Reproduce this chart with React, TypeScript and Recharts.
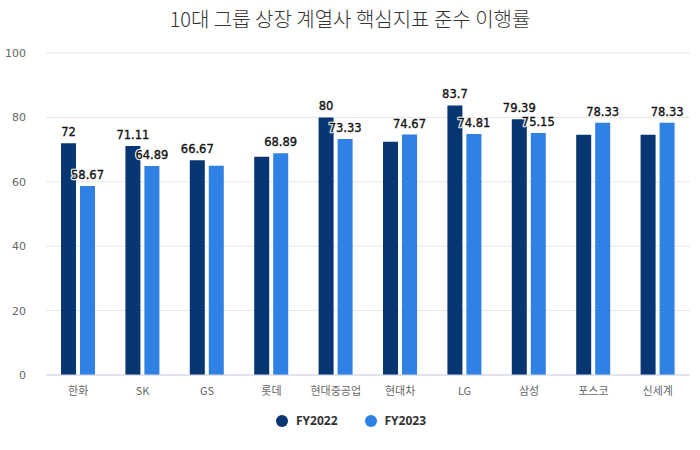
import { Bar, BarChart, CartesianGrid, LabelList, Legend, XAxis, YAxis } from "recharts";

const groups = ["한화", "SK", "GS", "롯데", "현대중공업", "현대차", "LG", "삼성", "포스코", "신세계"];
const fy2022 = [72, 71.11, 66.67, 67.78, 80, 72.4, 83.7, 79.39, 74.6, 74.6];
const fy2023 = [58.67, 64.89, 65, 68.89, 73.33, 74.67, 74.81, 75.15, 78.33, 78.33];
// labels the original leaves out where they would collide
const hidden2022 = ["롯데", "현대차", "포스코", "신세계"];
const hidden2023 = ["GS"];
const yTicks = [0, 20, 40, 60, 80, 100];

const DARK = "#083672";
const LIGHT = "#2f82e4";
const FONT = "'DejaVu Sans', 'Noto Sans CJK KR', sans-serif";

const chartData = groups.map((g, i) => ({
  group: g,
  fy2022: fy2022[i],
  fy2023: fy2023[i],
}));

function makeLabel(hidden: string[]) {
  return (props: any) => {
    const { x, y, width, value, index } = props;
    if (hidden.includes(groups[index])) return null;
    const cx = x + width / 2;
    return (
      <g fontSize={11.5} fontFamily={FONT} textAnchor="middle">
        <text x={cx} y={y - 7} fill="#fff" stroke="#fff" strokeWidth={2.5} strokeLinejoin="round">
          {value}
        </text>
        <text x={cx} y={y - 7} fill="#111" stroke="#111" strokeWidth={0.35}>
          {value}
        </text>
      </g>
    );
  };
}

export default function App() {
  return (
    <div style={{ position: "fixed", left: 0, top: 0, width: 700, height: 450, background: "#fff" }}>
      <div
        style={{
          position: "absolute",
          top: 4,
          width: 700,
          textAlign: "center",
          fontFamily: "'Noto Sans CJK KR', sans-serif",
          fontWeight: 300,
          fontSize: 20,
          color: "#333",
        }}
      >
        10대 그룹 상장 계열사 핵심지표 준수 이행률
      </div>
      <BarChart
        width={700}
        height={450}
        data={chartData}
        margin={{ top: 53, right: 10, left: 0, bottom: 0 }}
        barSize={15}
        barGap={4}
      >
        <CartesianGrid vertical={false} stroke="#e6e6e6" />
        <XAxis
          dataKey="group"
          tickLine={false}
          axisLine={{ stroke: "#ccd6eb" }}
          tick={{ fontSize: 11, fill: "#666", fontFamily: "'Noto Sans CJK KR', sans-serif" }}
          tickMargin={6}
          height={30}
        />
        <YAxis
          domain={[0, 100]}
          ticks={yTicks}
          axisLine={false}
          tickLine={false}
          width={46}
          tick={{ fontSize: 11, fill: "#666", fontFamily: FONT }}
          tickMargin={14}
        />
        <Legend
          verticalAlign="bottom"
          iconType="circle"
          iconSize={12}
          height={39}
          wrapperStyle={{ paddingTop: 6, paddingLeft: 11 }}
          formatter={(v) => (
            <span
              style={{
                color: "#333",
                fontWeight: 700,
                fontSize: 12,
                fontFamily: "'Noto Sans', sans-serif",
                marginLeft: 4,
                marginRight: v === "FY2022" ? 17 : 0,
              }}
            >
              {v}
            </span>
          )}
        />
        <Bar dataKey="fy2022" name="FY2022" fill={DARK} isAnimationActive={false}>
          <LabelList dataKey="fy2022" content={makeLabel(hidden2022)} />
        </Bar>
        <Bar dataKey="fy2023" name="FY2023" fill={LIGHT} isAnimationActive={false}>
          <LabelList dataKey="fy2023" content={makeLabel(hidden2023)} />
        </Bar>
      </BarChart>
    </div>
  );
}
